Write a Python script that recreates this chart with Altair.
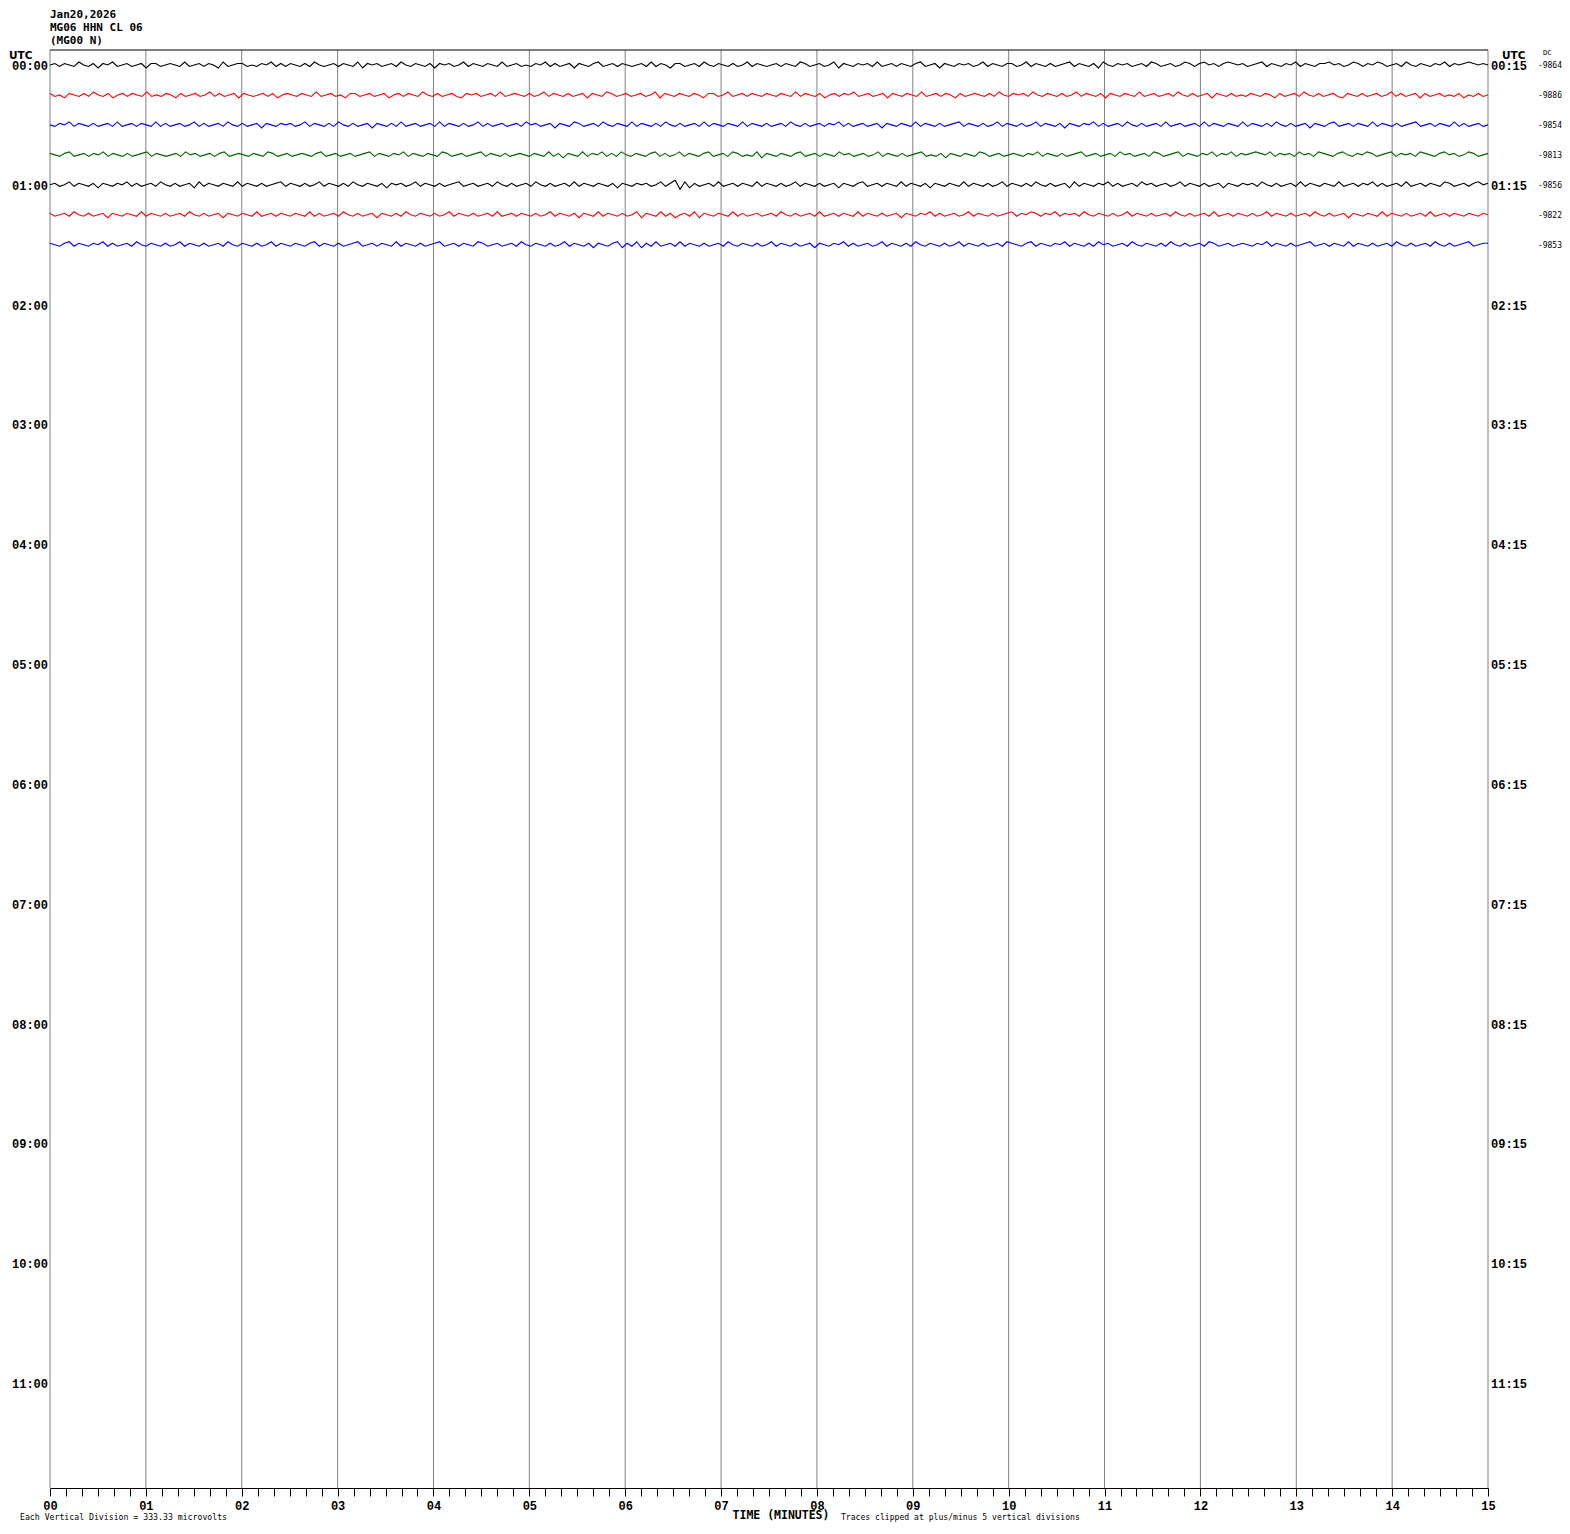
import altair as alt
import pandas as pd

# ---------------- data ----------------
HEADER_LINES = ["Jan20,2026", "MG06 HHN CL 06", "(MG00 N)"]
LEFT_LABELS = ["00:00", "01:00", "02:00", "03:00", "04:00", "05:00",
               "06:00", "07:00", "08:00", "09:00", "10:00", "11:00"]
RIGHT_LABELS = ["00:15", "01:15", "02:15", "03:15", "04:15", "05:15",
                "06:15", "07:15", "08:15", "09:15", "10:15", "11:15"]
DC_VALUES = ["-9864", "-9886", "-9854", "-9813", "-9856", "-9822", "-9853"]
TRACE_COLORS = ["black", "red", "blue", "green", "black", "red", "blue"]
MINUTES = list(range(16))
ROWS_TOTAL = 48          # 12 hours x 4 lines of 15 minutes
ROWS_PER_LABEL = 4

# trace deflections (units of 1/20 of the line spacing), one sample every 3 s
T0 = [0,1,-1,1,0,-1,2,0,-1,1,-2,1,0,2,-1,0,1,-1,0,1,-2,1,1,-1,0,1,0,-1,2,-1,0,1,-1,1,0,-2,2,-1,0,1,1,-1,0,-1,1,0,2,-1,1,-1,
      1,0,-1,1,-1,2,0,-1,0,1,-1,1,0,-1,2,-2,1,0,1,-1,0,1,-1,2,0,-1,1,0,-1,1,-2,1,0,1,-1,0,2,-1,1,0,-1,1,0,-1,2,-1,0,1,-1,0,
      -1,1,0,2,-1,1,-1,0,1,-2,1,0,-1,1,2,-1,0,1,-1,1,0,-1,0,1,-1,2,-1,1,0,-2,1,1,-1,0,1,-1,2,0,-1,1,0,-1,1,-1,0,2,-1,1,0,-1,
      0,1,-1,1,0,-1,2,1,-1,0,1,-1,0,2,-2,1,0,-1,1,0,1,-1,2,-1,0,1,-1,1,0,-1,1,2,-1,0,1,-2,1,0,-1,1,0,1,-1,0,2,-1,1,0,-1,1,
      1,-1,0,2,-1,1,0,-1,1,-1,0,1,2,-1,1,0,-1,1,-2,2,0,-1,1,0,1,-1,0,1,-1,2,1,-1,0,1,-1,0,2,1,-1,1,2,0,1,-1,1,2,1,0,1,-1,
      0,1,2,-1,1,0,-1,1,0,2,-1,1,0,-1,1,1,2,0,1,-1,0,2,1,-1,1,0,2,1,-1,0,1,-1,2,0,-1,1,0,-1,1,0,2,-1,1,0,1,2,1,0,1,0]
T1 = [1,-1,0,-2,1,0,-1,1,-1,2,0,-1,1,-2,0,1,-1,1,0,-1,2,-1,0,-1,1,0,-2,1,-1,0,1,-1,0,2,-1,1,-1,0,1,-2,1,0,-1,0,1,-1,1,-2,0,1,
      0,-1,1,0,-1,2,-1,0,1,-1,0,-2,1,1,-1,0,1,-1,0,1,-2,0,1,-1,1,0,-1,2,0,-1,1,-1,0,1,-1,-2,1,0,1,-1,0,1,-1,2,-1,0,1,0,-1,1,
      -1,0,2,-1,1,0,-1,1,-1,0,1,-2,1,0,-1,2,1,-1,0,1,-1,0,1,-1,0,2,-2,1,0,-1,1,0,-1,1,0,-2,1,1,-1,0,2,-1,0,1,-1,1,0,-1,1,0,
      -1,1,0,-1,2,-1,1,0,-1,1,-2,0,1,-1,1,0,2,-1,0,1,-1,0,1,-2,1,0,-1,1,0,-1,2,-1,0,1,-1,1,0,-2,1,-1,0,1,0,-1,1,-1,2,0,-1,1,
      0,1,-1,2,0,-1,1,0,-1,1,-1,0,2,-1,1,0,-1,1,-2,1,0,-1,1,0,-1,2,-1,0,1,-1,0,1,-1,2,0,-1,1,-1,0,1,-2,1,0,-1,1,-1,0,-1,1,0,
      -1,1,0,-2,1,-1,0,1,-1,2,0,-1,1,-1,0,1,-1,-2,1,0,-1,1,-1,0,1,-1,0,2,-1,1,-1,0,1,-2,1,-1,0,1,-1,0,-1,1,-2,0,-1,1,-1,0]
T2 = [0,-1,1,0,2,-1,1,0,-1,1,-1,0,1,-1,2,-1,0,1,-1,1,0,-1,2,-1,1,-1,0,1,-1,0,2,-1,1,-1,0,1,-1,2,0,-1,1,-1,0,1,-2,1,0,-1,1,0,
      1,-1,0,2,-1,1,0,-1,1,-1,2,0,-1,1,-1,0,1,-2,1,0,-1,1,-1,2,-1,0,1,-1,0,1,-1,2,-1,1,0,-1,1,-1,0,2,-1,1,-1,0,1,-1,0,1,-1,2,
      0,1,-1,0,1,-2,1,0,-1,2,1,-1,0,1,-1,2,0,-1,1,0,-1,2,-1,1,0,-1,1,-1,2,0,-1,1,-1,0,1,-1,2,-1,1,0,-1,1,0,-1,2,-1,1,0,-1,1,
      -1,0,1,-1,2,0,-1,1,-1,0,1,-1,1,0,2,-1,1,-1,0,1,-1,0,1,-2,1,0,-1,1,0,-1,2,-1,1,0,-1,1,-1,0,1,2,-1,1,0,-1,1,-1,0,2,-1,1,
      0,-1,1,-1,0,2,-1,1,0,-1,1,-2,1,0,-1,1,0,2,-1,1,-1,0,1,-1,2,0,-1,1,-1,0,1,-1,2,-1,0,1,-1,0,1,-1,2,-1,1,0,-1,1,0,-1,2,-1,
      1,0,-1,1,-1,2,0,-1,1,-1,0,1,-2,1,0,-1,1,2,-1,0,1,-1,1,0,-1,2,-1,1,0,-1,1,-1,0,1,2,-1,0,1,-1,1,0,-1,2,-1,1,-1,0,1,-1,0]
T3 = [1,0,-1,1,2,-1,0,1,-1,1,0,2,-1,1,0,-1,1,-1,0,1,2,-1,1,0,-1,0,1,-1,2,0,1,-1,0,1,-1,1,2,-1,0,1,0,-1,1,0,-1,2,1,-1,0,1,
      -1,0,1,0,-1,1,2,-1,0,1,-1,0,1,-1,0,1,2,-1,1,0,-1,1,0,2,-1,1,0,-1,1,0,-1,2,1,-1,0,1,-1,0,1,2,-1,1,0,-1,1,-1,0,1,0,-1,
      1,0,-1,2,-1,1,-2,1,0,-1,2,-1,1,0,2,-1,1,-1,2,0,-1,1,0,-1,1,2,-1,1,-1,0,2,-1,1,0,-1,1,2,-1,0,1,-1,2,1,-1,0,-1,2,-2,1,0,
      -1,1,0,-1,1,2,-1,0,1,-1,1,0,-1,2,0,1,-1,0,1,-1,0,2,-1,1,0,-1,1,-1,0,1,2,-1,0,-1,1,-2,1,0,-1,1,0,-1,2,1,-1,0,1,-1,0,1,
      0,-1,1,0,2,-1,1,0,-1,1,-1,0,1,2,-1,0,1,-1,0,1,-1,2,0,1,-1,0,1,-1,2,1,-1,0,1,2,-1,1,0,-1,1,0,2,-1,1,0,2,-1,1,0,1,2,
      1,0,2,-1,1,0,1,-1,2,0,1,-1,2,1,0,-1,1,2,0,-1,1,0,2,1,-1,0,1,2,-1,1,0,1,-1,2,1,0,-1,1,2,0,1,-1,0,2,1,-1,0,1]
T4 = [0,1,-1,0,2,-1,1,0,-1,1,-2,1,0,-1,1,0,2,-1,1,-1,0,1,-1,2,0,-1,1,-1,0,1,-2,2,-1,1,0,-1,1,0,-1,2,-1,1,0,-1,1,-1,0,1,2,-1,
      1,0,-1,1,-1,0,2,-1,1,0,-1,1,-1,2,0,-1,1,0,-1,1,-2,1,0,1,-1,0,2,-1,1,0,-1,1,-1,0,1,2,-1,0,1,-1,0,1,-1,2,0,-1,1,-1,0,1,
      -1,2,0,-1,1,-1,0,1,-1,2,-1,1,0,-1,1,0,-1,1,-2,1,0,-1,1,0,1,-1,0,2,-1,1,3,-3,2,-2,1,-1,0,1,-1,2,-1,0,1,-1,1,0,-1,2,-1,1,
      0,-1,1,-1,0,2,-1,1,0,-1,1,-1,0,1,-2,1,0,-1,1,2,-1,0,1,-1,1,0,-1,2,-1,1,0,-1,1,-2,1,0,-1,1,0,-1,2,-1,1,0,-1,1,-1,0,2,-1,
      1,0,-1,1,-1,2,0,-1,1,-1,0,1,-2,2,-1,1,0,-1,1,0,2,-1,1,-1,0,1,-1,2,0,1,-1,0,1,-1,0,2,-1,1,0,-1,1,-1,0,1,-2,1,0,-1,1,0,
      1,-1,2,0,-1,1,-1,0,1,-1,2,-1,1,0,-1,1,0,-1,2,-1,0,1,-1,1,0,2,-1,1,-1,0,1,-1,2,-1,0,1,-1,1,0,-1,2,1,-1,0,1,-1,1,2,0,1]
T5 = [1,-1,0,1,-1,2,0,-1,1,-1,0,1,-2,1,0,-1,1,0,-1,2,-1,1,0,-1,1,-1,0,1,-1,2,0,-1,1,-1,0,1,-2,1,0,-1,1,0,-1,2,-1,0,1,-1,1,0,
      -1,1,0,-1,2,-1,1,-1,0,1,-1,2,0,-1,1,-1,0,1,-2,1,0,-1,1,-1,2,0,-1,1,0,-1,1,-1,0,2,-1,1,0,-1,1,-1,0,1,-1,2,-1,0,1,-1,1,0,
      -1,1,-1,0,2,-1,1,0,-1,1,-2,1,0,-1,2,-1,1,0,-1,1,-1,0,2,-2,1,0,-1,2,-1,1,-2,0,1,-1,2,-2,1,0,-1,1,0,-1,2,-1,1,-1,0,1,-1,0,
      1,-1,2,0,-1,1,-1,0,1,-1,2,-1,0,1,-1,1,0,-1,2,-1,1,0,-1,1,-1,0,1,-2,1,0,-1,1,0,2,-1,1,-1,0,1,-1,0,2,-1,1,0,-1,1,-1,0,1,
      2,-1,1,0,2,1,-1,1,0,2,-1,1,0,1,-1,2,0,-1,1,0,-1,1,-1,0,2,-1,1,0,-1,1,-1,0,1,-1,2,0,-1,1,-1,0,1,-1,2,-1,0,1,-1,1,0,-1,
      1,-1,0,2,-1,1,0,-1,1,-1,0,1,-1,2,0,-1,1,-1,0,1,-2,1,0,-1,1,0,-1,2,-1,1,0,-1,1,-1,0,1,-1,2,-1,0,1,-1,1,0,-1,1,0,-1,1,0]
T6 = [1,0,-1,1,2,-1,1,0,-1,1,0,2,-1,1,-1,0,1,-1,2,0,-1,1,0,-1,1,-1,0,2,-1,1,0,-1,1,-1,0,1,-1,2,0,-1,1,0,-1,1,-1,0,2,-1,1,0,
      -1,1,0,-1,1,2,-1,1,0,-1,1,-1,0,1,2,-1,0,1,-1,1,0,-1,2,-1,1,0,-1,1,-1,0,1,2,-1,0,1,-1,1,0,-1,2,1,-1,0,1,-1,0,1,-1,2,0,
      -1,1,0,-1,1,-1,0,2,-1,1,0,-1,1,-2,1,0,-1,1,2,-2,1,-1,2,-2,1,-1,2,-1,0,1,-1,2,-1,1,0,-1,1,-1,0,1,-1,2,0,-1,1,0,-1,1,-1,0,
      2,-1,1,0,-1,1,-1,0,1,-2,1,0,-1,1,0,2,-1,1,-1,0,1,-1,0,2,-1,1,0,-1,1,-1,2,0,-1,1,0,-1,1,-1,0,2,-1,1,0,-1,1,-1,0,1,-1,2,
      1,0,-1,1,2,-1,1,0,-1,1,0,2,-1,1,0,-1,1,-1,2,0,1,-1,0,1,-1,2,0,-1,1,0,-1,1,-1,2,0,-1,1,-1,0,1,-1,2,1,-1,0,1,-1,0,1,0,
      -1,1,0,2,-1,1,0,-1,1,-1,0,1,2,-1,0,1,-1,1,0,-1,2,-1,1,0,-1,1,-1,0,1,-1,2,0,-1,1,-1,0,1,-1,2,0,-1,1,-1,0,1,2,-1,0,1,1]
TRACES = [T0, T1, T2, T3, T4, T5, T6]
UNITS_PER_LINE = 20.0

# ---------------- tables ----------------
trace_rows = []
for k, vals in enumerate(TRACES):
    n = len(vals)
    for i, v in enumerate(vals):
        trace_rows.append({"trace": k, "t": i * 15.0 / (n - 1),
                           "y": k - v / UNITS_PER_LINE, "c": TRACE_COLORS[k]})
traces_df = pd.DataFrame(trace_rows)

labels_df = pd.DataFrame({"row": [i * ROWS_PER_LABEL for i in range(len(LEFT_LABELS))],
                          "left": LEFT_LABELS, "right": RIGHT_LABELS})
dc_df = pd.DataFrame({"row": list(range(len(DC_VALUES))), "dc": DC_VALUES})
minutes_df = pd.DataFrame({"m": MINUTES})
minor_ticks = [round(i / 6, 6) for i in range(15 * 6 + 1)]
one_df = pd.DataFrame({"r": [-0.5]})

W, H = 1438, 1438
xs = alt.Scale(domain=[0, 15], nice=False, zero=False)
ys = alt.Scale(domain=[-0.5, ROWS_TOTAL - 0.5], reverse=True, nice=False, zero=False)

MONO = "DejaVu Sans Mono"
SERIF_MONO = "Liberation Mono"

X_AXIS = alt.Axis(
    values=minor_ticks,
    labelExpr="datum.value % 1 === 0 ? (datum.value < 10 ? '0' : '') + datum.value : ''",
    tickSize=8, tickColor="black", tickWidth=1, domainColor="black", domainWidth=1,
    labelFont=SERIF_MONO, labelFontSize=12, labelFontWeight="bold", labelColor="black",
    labelPadding=4, labelOverlap=False, labelFlush=False, grid=False, title=None)

grid = alt.Chart(minutes_df).mark_rule(color="#808080", strokeWidth=1).encode(
    x=alt.X("m:Q", scale=xs, axis=X_AXIS)
)

top = alt.Chart(one_df).mark_rule(color="black", strokeWidth=1).encode(
    y=alt.Y("r:Q", scale=ys, axis=None)
)

lines = alt.Chart(traces_df).mark_line(strokeWidth=1.1, interpolate="linear").encode(
    x=alt.X("t:Q", scale=xs, axis=X_AXIS),
    y=alt.Y("y:Q", scale=ys, axis=None),
    color=alt.Color("c:N", scale=alt.Scale(domain=["black", "red", "blue", "green"],
                                           range=["#000000", "#ff0000", "#0000ff", "#006400"]),
                    legend=None),
    detail="trace:N",
)

left_lab = alt.Chart(labels_df).mark_text(
    align="right", baseline="middle", font=SERIF_MONO, fontSize=12, fontWeight="bold",
    color="black", dy=1).encode(
    x=alt.value(-2), y=alt.Y("row:Q", scale=ys, axis=None), text="left:N")

right_lab = alt.Chart(labels_df).mark_text(
    align="left", baseline="middle", font=SERIF_MONO, fontSize=12, fontWeight="bold",
    color="black", dy=1).encode(
    x=alt.value(W + 3), y=alt.Y("row:Q", scale=ys, axis=None), text="right:N")

dc_lab = alt.Chart(dc_df).mark_text(
    align="right", baseline="middle", font=MONO, fontSize=8, color="black", dy=1).encode(
    x=alt.value(W + 74), y=alt.Y("row:Q", scale=ys, axis=None), text="dc:N")


def note(text, x, y, size, weight="normal", align="left", font=MONO):
    return alt.Chart(one_df).mark_text(
        align=align, baseline="middle", font=font, fontSize=size,
        fontWeight=weight, color="black", text=text
    ).encode(x=alt.value(x), y=alt.value(y))


head1 = note(HEADER_LINES[0], 0, -35.5, 11, weight="bold")
head2 = note(HEADER_LINES[1], 0, -22.5, 11, weight="bold")
head3 = note(HEADER_LINES[2], 0, -9, 11, weight="bold")
utc_l = note("UTC", -41, 6, 10.5, weight="bold", font="DejaVu Sans")
utc_r = note("UTC", W + 14, 6, 10.5, weight="bold", font="DejaVu Sans")
dc_h = note("DC", W + 55, 3, 7)
time_t = note("TIME (MINUTES)", 731, H + 28, 11.5, weight="bold", align="center")
each = note("Each Vertical Division =  333.33 microvolts", -30, H + 30, 8.2)
clip = note("Traces clipped at plus/minus 5 vertical divisions", 791, H + 30, 8.1)

chart = alt.layer(
    grid, lines, top, left_lab, right_lab, dc_lab,
    head1, head2, head3, utc_l, utc_r, dc_h, time_t, each, clip
).properties(
    width=W, height=H,
    padding={"left": 42, "top": 42, "right": 74, "bottom": 34},
    autosize=alt.AutoSizeParams(type="none"),
    background="white",
).configure_view(stroke=None)

chart.save("out.html", embed_options={"renderer": "svg", "actions": False})
